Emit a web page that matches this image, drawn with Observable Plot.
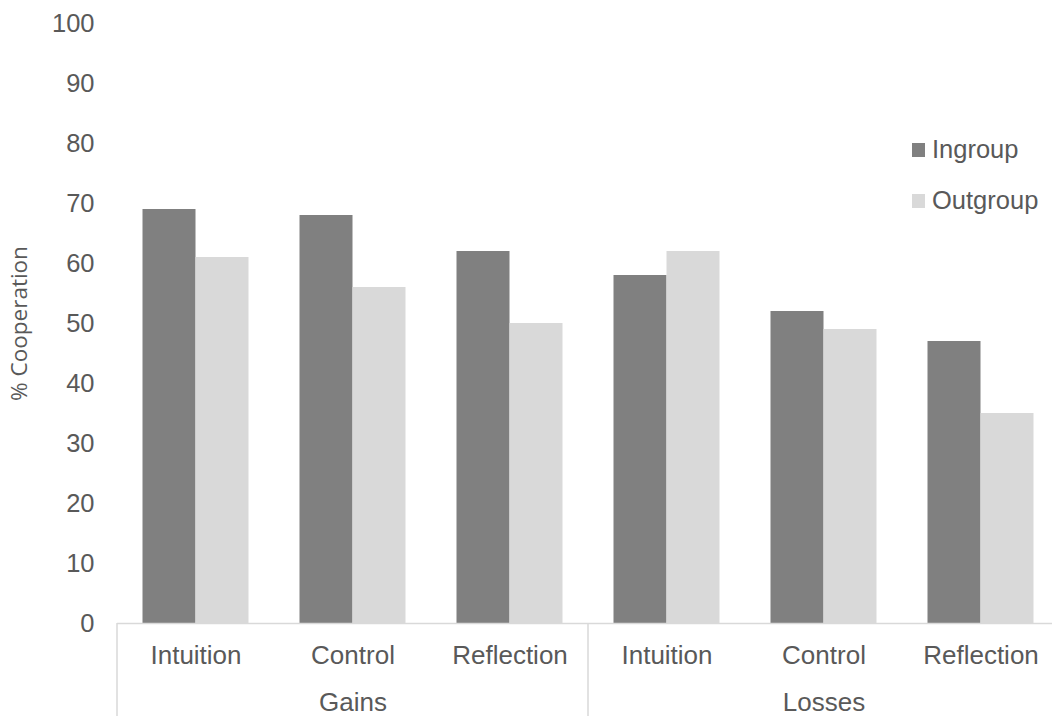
<!DOCTYPE html>
<html>
<head>
<meta charset="utf-8">
<script src="https://cdn.jsdelivr.net/npm/d3@7"></script>
<script src="https://cdn.jsdelivr.net/npm/@observablehq/plot@0.6"></script>
<style>
  html, body { margin: 0; padding: 0; background: #fff; overflow: hidden; }
  #wrap { position: relative; width: 1052px; height: 716px; overflow: hidden; }
  #wrap svg { max-width: none !important; display: block; }
  #legend { position: absolute; left: 912px; top: 124px; font-family: "Liberation Sans", Arial, sans-serif; font-size: 25.5px; color: #595959; }
  .item { display: flex; align-items: center; height: 51px; }
  .sw { width: 13px; height: 14px; margin-right: 7px; }
</style>
</head>
<body>
<div id="wrap"><div id="legend"></div></div>
<script>
const groups = ["Gains", "Losses"];
const conditions = ["Intuition", "Control", "Reflection"];
const series = ["Ingroup", "Outgroup"];
const ingroup = [69, 68, 62, 58, 52, 47];
const outgroup = [61, 56, 50, 62, 49, 35];
const colors = ["#808080", "#d9d9d9"];
const yTicks = [0, 10, 20, 30, 40, 50, 60, 70, 80, 90, 100];

const keys = [];
groups.forEach(g => conditions.forEach(c => keys.push(g + "|" + c)));
const data = [];
keys.forEach((k, i) => {
  data.push({key: k, series: series[0], value: ingroup[i]});
  data.push({key: k, series: series[1], value: outgroup[i]});
});
const groupLabels = groups.map(g => ({key: g + "|" + conditions[1], label: g}));

const textColor = "#595959";
const font = "'Liberation Sans', Arial, sans-serif";

const chart = Plot.plot({
  width: 1061,
  height: 716,
  marginLeft: 115.5,
  marginRight: 0,
  marginTop: 23,
  marginBottom: 93,
  style: {fontFamily: font, color: textColor, background: "#fff"},
  fx: {domain: keys, padding: 0, axis: null},
  x: {domain: series, paddingInner: 0, paddingOuter: 0.481, axis: null},
  y: {domain: [0, 100], axis: null},
  color: {domain: series, range: colors},
  marks: [
    Plot.axisY({ticks: yTicks, tickSize: 0, tickPadding: 23, fontSize: 25.5, label: "% Cooperation", labelAnchor: "center", labelOffset: 106, labelArrow: "none"}),
    Plot.barY(data, {fx: "key", x: "series", y: "value", fill: "series"}),
    Plot.ruleY([0], {stroke: "#d9d9d9", strokeWidth: 1.5}),
    Plot.axisFx({anchor: "bottom", tickSize: 0, tickPadding: 22.5, fontSize: 26, tickFormat: k => k.split("|")[1], label: null}),
    Plot.text(groupLabels, {fx: "key", text: "label", frameAnchor: "bottom", lineAnchor: "top", dy: 69.5, fontSize: 26, fill: textColor})
  ]
});

const svg = d3.select(chart);
svg.selectAll('g[aria-label="y-axis label"] text')
  .attr("font-family", "'Open Sans', 'Noto Sans', sans-serif")
  .attr("font-size", 22.5);

const fx = chart.scale("fx");
const yScale = chart.scale("y");
const y0 = yScale.apply(0);
const sepX = [];
groups.forEach(g => sepX.push(fx.apply(g + "|" + conditions[0])));
sepX.push(fx.apply(keys[keys.length - 1]) + fx.bandwidth);
svg.append("g").selectAll("line").data(sepX).join("line")
  .attr("x1", d => d).attr("x2", d => d)
  .attr("y1", y0).attr("y2", 716)
  .attr("stroke", "#d9d9d9").attr("stroke-width", 1.5);

document.getElementById("wrap").prepend(chart);

const legend = d3.select("#legend");
series.forEach((s, i) => {
  const it = legend.append("div").attr("class", "item");
  it.append("div").attr("class", "sw").style("background", colors[i]);
  it.append("span").text(s);
});
</script>
</body>
</html>
